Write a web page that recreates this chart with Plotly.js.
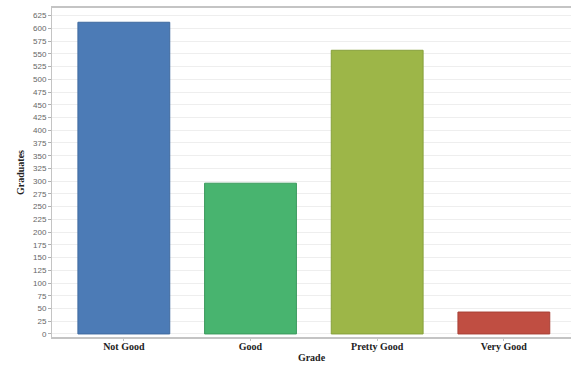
<!DOCTYPE html>
<html><head><meta charset="utf-8">
<script src="https://cdn.plot.ly/plotly-3.0.1.min.js"></script>
<style>html,body{margin:0;padding:0;background:#fff}</style>
</head><body><div id="chart" style="width:573px;height:367px"></div>
<script>
const grades = ["Not Good", "Good", "Pretty Good", "Very Good"];
const graduates = [612, 296, 557, 43];
const barColors = ["#4c7bb6", "#48b46f", "#9db648", "#c04e42"];
const lineColors = ["#3f6a9f", "#3c9a5e", "#86a03b", "#a84136"];
const yTicks = [0,25,50,75,100,125,150,175,200,225,250,275,300,325,350,375,400,425,450,475,500,525,550,575,600,625];

Plotly.newPlot("chart", [{
  type: "bar",
  x: grades,
  y: graduates,
  marker: {color: barColors, line: {color: lineColors, width: 1}},
  hoverinfo: "x+y"
}], {
  width: 573, height: 367,
  margin: {l: 52, r: 2, t: 8, b: 30},
  paper_bgcolor: "#fff", plot_bgcolor: "#fff",
  bargap: 0.275,
  showlegend: false,
  xaxis: {
    type: "category",
    range: [-0.567, 3.53],
    showline: true, mirror: true, linecolor: "#c4c4c4", linewidth: 2,
    ticks: "outside", ticklen: 2, tickcolor: "#c4c4c4",
    ticklabelstandoff: -3,
    showgrid: false,
    tickfont: {family: "Liberation Serif", size: 10, color: "#222", weight: "bold"},
    title: {text: "Grade", standoff: 3, font: {family: "Liberation Serif", size: 10, color: "#222", weight: "bold"}}
  },
  yaxis: {
    range: [-6, 640],
    tickvals: yTicks,
    showline: true, linecolor: "#c4c4c4", linewidth: 1,
    ticks: "outside", ticklen: 3, tickcolor: "#b0b0b0",
    showgrid: true, gridcolor: "#eeeeee", gridwidth: 1,
    zeroline: false,
    tickfont: {family: "Liberation Sans", size: 8, color: "#666"},
    title: {text: "Graduates", standoff: 6, font: {family: "Liberation Serif", size: 10, color: "#222", weight: "bold"}}
  }
}, {displayModeBar: false, staticPlot: true});
</script></body></html>
